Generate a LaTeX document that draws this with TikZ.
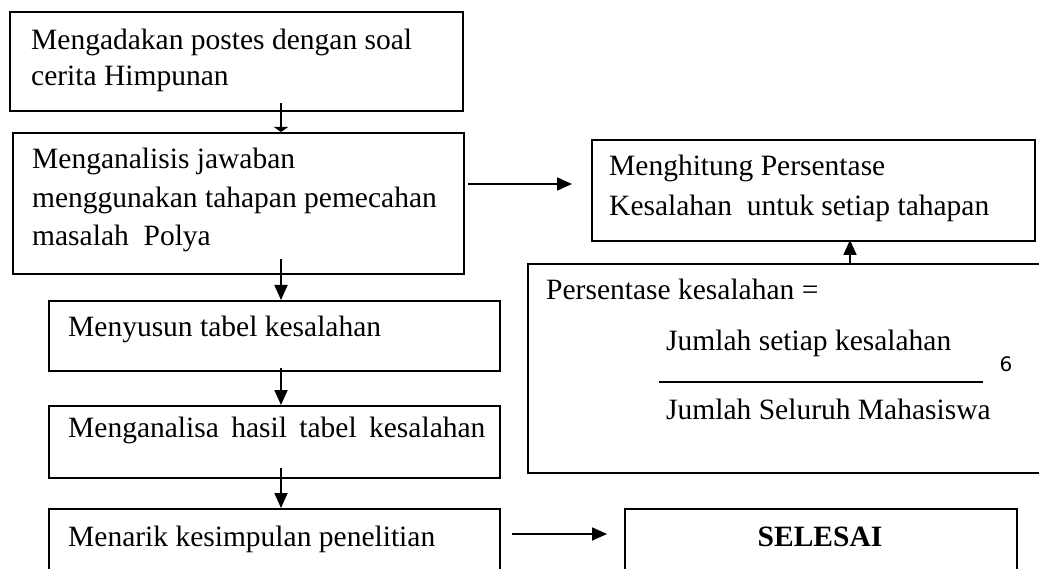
\documentclass[tikz,border=0pt]{standalone}
\usepackage{fontspec}
\setmainfont{Liberation Serif}
\newfontfamily\symfont{DejaVu Sans}
\usetikzlibrary{arrows.meta}
\begin{document}
\begin{tikzpicture}[x=1pt,y=-1pt,
  boxnode/.style={draw=black, line width=1.8pt, inner sep=0pt, anchor=north west},
  txt/.style={inner sep=0pt, anchor=base west, font=\fontsize{29.5}{36}\selectfont},
  arr/.style={line width=1.8pt, -{Triangle[length=15pt,width=13pt]}},
  smallarr/.style={line width=1.8pt, -{Triangle[length=5pt,width=14pt]}}]
\useasboundingbox (0,0) rectangle (1039,569);
\clip (0,0) rectangle (1039,569);
% boxes
\node[boxnode, minimum width=453pt, minimum height=99pt] (b1) at (9,11) {};
\node[boxnode, minimum width=451pt, minimum height=141pt] (b2) at (12,132) {};
\node[boxnode, minimum width=443pt, minimum height=101pt] (b3) at (591,139) {};
\node[boxnode, minimum width=523pt, minimum height=209pt] (b4) at (527,263) {};
\node[boxnode, minimum width=451pt, minimum height=70pt] (b5) at (48,300) {};
\node[boxnode, minimum width=451pt, minimum height=72pt] (b6) at (48,405) {};
\node[boxnode, minimum width=451pt, minimum height=80pt] (b7) at (48,508) {};
\node[boxnode, minimum width=392pt, minimum height=80pt] (b8) at (624,508) {};
% texts
\node[txt] (t1a) at (31,50) {Mengadakan postes dengan soal};
\node[txt] (t1b) at (31,86) {cerita Himpunan};
\node[txt] (t2a) at (32,169) {Menganalisis jawaban};
\node[txt] (t2b) at (32,208) {menggunakan tahapan pemecahan};
\node[txt] (t2c) at (32,246) {masalah~ Polya};
\node[txt] (t3a) at (609,176) {Menghitung Persentase};
\node[txt] (t3b) at (609,216) {Kesalahan~ untuk setiap tahapan};
\node[txt] (t4a) at (546,300) {Persentase kesalahan =};
\node[txt] (t4b) at (666,351) {Jumlah setiap kesalahan};
\node[txt] (t4c) at (666,419) {Jumlah Seluruh Mahasiswa};
\node[inner sep=0pt, font=\symfont\fontsize{20}{22}\selectfont] (t4d) at (1006,364) {6};
\node[txt] (t5) at (68,337) {Menyusun tabel kesalahan};
\node[txt] (t6) at (68,437) {Menganalisa\hspace{5pt} hasil\hspace{5pt} tabel\hspace{5pt} kesalahan};
\node[txt] (t7) at (68,546) {Menarik kesimpulan penelitian};
\node[txt, anchor=base, font=\fontsize{29.5}{36}\selectfont\bfseries] (t8) at (820,546) {SELESAI};
% fraction line
\coordinate (fl1) at (659,382);
\coordinate (fl2) at (983,382);
\draw[line width=1.8pt] (fl1) -- (fl2);
% connectors
\coordinate (a1) at (281,103);
\coordinate (a2) at (281,259);
\coordinate (a3) at (281,368);
\coordinate (a4) at (281,468);
\coordinate (a5s) at (468,184);
\coordinate (a5e) at (572,184);
\coordinate (a6) at (850,240);
\coordinate (a7s) at (512,534);
\coordinate (a7e) at (607,534);
\draw[smallarr] (a1) -- (a1 |- b2.north);
\draw[arr] (a2) -- (a2 |- b5.north);
\draw[arr] (a3) -- (a3 |- b6.north);
\draw[arr] (a4) -- (a4 |- b7.north);
\draw[arr] (a5s) -- (a5e);
\draw[arr] (a6 |- b4.north) -- (a6);
\draw[arr] (a7s) -- (a7e);
\end{tikzpicture}
\end{document}
